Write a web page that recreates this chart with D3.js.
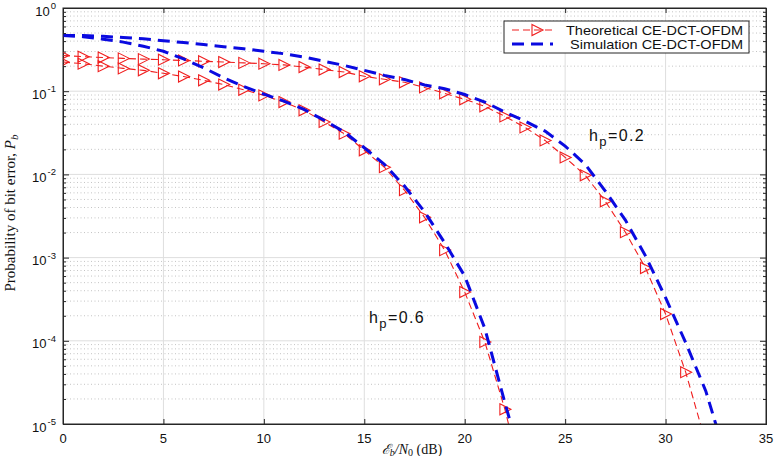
<!DOCTYPE html>
<html>
<head>
<meta charset="utf-8">
<script src="https://cdn.jsdelivr.net/npm/d3@7"></script>
<style>
  body { margin: 0; background: #fff; }
  svg { display: block; }
</style>
</head>
<body>
<div id="chart"></div>
<script>
// Eb/N0 points (dB)
var snr = d3.range(0, 34);

// theoretical curves (red, with markers)
var theoHp06 = [0.224, 0.214, 0.200, 0.188, 0.178, 0.164, 0.150, 0.135, 0.120, 0.104,
    0.0891, 0.0741, 0.0589, 0.0427, 0.0309, 0.0195, 0.0122, 0.00646, 0.00305, 0.00123,
    3.85e-4, 9.7e-5, 1.5e-5, 1.6e-6];
var theoHp02 = [0.269, 0.260, 0.254, 0.248, 0.243, 0.239, 0.234, 0.229, 0.224, 0.219,
    0.214, 0.207, 0.195, 0.182, 0.170, 0.151, 0.139, 0.128, 0.111, 0.0942,
    0.0798, 0.0658, 0.0498, 0.0367, 0.0256, 0.0160, 0.00975, 0.00475, 0.00202, 7.5e-4,
    2.1e-4, 4.2e-5, 6e-6];

// simulation curves (blue, dashed)
var simHp06 = [0.468, 0.452, 0.422, 0.389, 0.347, 0.302, 0.245, 0.191, 0.145, 0.114,
    0.0923, 0.0759, 0.0603, 0.0447, 0.0324, 0.0209, 0.0132, 0.00724, 0.00355, 0.00151,
    6.0e-4, 1.41e-4, 1.8e-5, 2.5e-6];
var simHp02 = [0.468, 0.468, 0.457, 0.442, 0.427, 0.403, 0.385, 0.363, 0.343, 0.324,
    0.302, 0.282, 0.257, 0.229, 0.204, 0.178, 0.155, 0.138, 0.119, 0.107,
    0.0912, 0.0741, 0.0562, 0.0437, 0.0331, 0.0219, 0.0132, 0.00631, 0.00282, 0.00105,
    3.3e-4, 9.5e-5, 2.5e-5, 4e-6];

var xTicks = [0, 5, 10, 15, 20, 25, 30, 35];
var yTicks = [1e-5, 1e-4, 1e-3, 1e-2, 1e-1, 1];
var yExp = ["-5", "-4", "-3", "-2", "-1", "0"];

var svgWidth = 778;
var svgHeight = 456;
var margin = {top: 8, right: 12, bottom: 32, left: 63};
var chartWidth = svgWidth - margin.left - margin.right;
var chartHeight = svgHeight - margin.top - margin.bottom;

var svg = d3.select("#chart").append("svg")
    .attr("width", svgWidth)
    .attr("height", svgHeight);

var chartGroup = svg.append("g")
    .attr("transform", `translate(${margin.left}, ${margin.top})`);

var xScale = d3.scaleLinear().domain([0, 35]).range([0, chartWidth]);
var yScale = d3.scaleLog().domain([1e-5, 1]).range([chartHeight, 0]);

// minor log values
var minorY = [];
for (var e = -5; e < 0; e++) {
    for (var m = 2; m <= 9; m++) minorY.push(m * Math.pow(10, e));
}

// grid: dotted minor horizontals
chartGroup.append("g").selectAll("line")
    .data(minorY).enter().append("line")
    .attr("x1", 0).attr("x2", chartWidth)
    .attr("y1", d => yScale(d)).attr("y2", d => yScale(d))
    .attr("stroke", "#c4c4c4")
    .attr("stroke-width", 1)
    .attr("stroke-dasharray", "1,2.5");

// grid: major
chartGroup.append("g").selectAll("line")
    .data(yTicks.slice(1, -1)).enter().append("line")
    .attr("x1", 0).attr("x2", chartWidth)
    .attr("y1", d => yScale(d)).attr("y2", d => yScale(d))
    .attr("stroke", "#dedede");
chartGroup.append("g").selectAll("line")
    .data(xTicks.slice(1, -1)).enter().append("line")
    .attr("y1", 0).attr("y2", chartHeight)
    .attr("x1", d => xScale(d)).attr("x2", d => xScale(d))
    .attr("stroke", "#dedede");

// axes (ticks inward)
var bottomAxis = d3.axisBottom(xScale).tickValues(xTicks).tickSize(-5).tickFormat("");
var topAxis = d3.axisTop(xScale).tickValues(xTicks).tickSize(-5).tickFormat("");
var leftMajor = d3.axisLeft(yScale).tickValues(yTicks).tickSize(-6).tickFormat("");
var leftMinor = d3.axisLeft(yScale).tickValues(minorY).tickSize(-3).tickFormat("");
var rightMajor = d3.axisRight(yScale).tickValues(yTicks).tickSize(-6).tickFormat("");
var rightMinor = d3.axisRight(yScale).tickValues(minorY).tickSize(-3).tickFormat("");

function styleAxis(g) {
    g.selectAll("path").attr("stroke", "#262626");
    g.selectAll("line").attr("stroke", "#262626");
}
chartGroup.append("g").attr("transform", `translate(0, ${chartHeight})`).call(bottomAxis).call(styleAxis);
chartGroup.append("g").call(topAxis).call(styleAxis);
chartGroup.append("g").call(leftMajor).call(styleAxis);
chartGroup.append("g").call(leftMinor).call(styleAxis);
chartGroup.append("g").attr("transform", `translate(${chartWidth}, 0)`).call(rightMajor).call(styleAxis);
chartGroup.append("g").attr("transform", `translate(${chartWidth}, 0)`).call(rightMinor).call(styleAxis);

// tick labels
chartGroup.append("g").selectAll("text")
    .data(xTicks).enter().append("text")
    .attr("x", d => xScale(d))
    .attr("y", chartHeight + 19)
    .attr("text-anchor", "middle")
    .attr("font-family", "Liberation Sans, Arial, sans-serif")
    .attr("font-size", "13px")
    .attr("fill", "#111")
    .text(d => d);

var yLab = chartGroup.append("g").selectAll("text")
    .data(yTicks).enter().append("text")
    .attr("x", -7)
    .attr("y", d => yScale(d) + 7.5)
    .attr("text-anchor", "end")
    .attr("font-family", "Liberation Sans, Arial, sans-serif")
    .attr("font-size", "13px")
    .attr("fill", "#111");
yLab.append("tspan").text("10");
yLab.append("tspan")
    .attr("dy", -6.5)
    .attr("dx", 1)
    .attr("font-size", "9.5px")
    .text((d, i) => yExp[i]);

// clip
svg.append("defs").append("clipPath").attr("id", "clip")
    .append("rect").attr("width", chartWidth).attr("height", chartHeight);

var plot = chartGroup.append("g").attr("clip-path", "url(#clip)");

var line = d3.line()
    .x(d => xScale(d[0]))
    .y(d => yScale(d[1]));

function pairs(vals) {
    return vals.map((v, i) => [snr[i], v]);
}

var redColor = "#f01e1e";
var blueColor = "#0a0ae0";
var triangle = "M-5,-5.5L6,0L-5,5.5Z";

[theoHp06, theoHp02].forEach(function(vals) {
    plot.append("path")
        .attr("d", line(pairs(vals)))
        .attr("fill", "none")
        .attr("stroke", redColor)
        .attr("stroke-width", 1.1)
        .attr("stroke-dasharray", "7,4");
    plot.append("g").selectAll("path")
        .data(pairs(vals)).enter().append("path")
        .attr("transform", d => `translate(${xScale(d[0])}, ${yScale(d[1])})`)
        .attr("d", triangle)
        .attr("fill", "none")
        .attr("stroke", redColor)
        .attr("stroke-width", 1.1);
});

[simHp06, simHp02].forEach(function(vals) {
    plot.append("path")
        .attr("d", line(pairs(vals)))
        .attr("fill", "none")
        .attr("stroke", blueColor)
        .attr("stroke-width", 3)
        .attr("stroke-dasharray", "12,7");
});

// frame
chartGroup.append("rect")
    .attr("width", chartWidth).attr("height", chartHeight)
    .attr("fill", "none").attr("stroke", "#262626");

// annotations
function hpLabel(x, y, val) {
    var t = chartGroup.append("text")
        .attr("x", x).attr("y", y)
        .attr("font-family", "Liberation Sans, Arial, sans-serif")
        .attr("font-size", "16px")
        .attr("letter-spacing", "1.4px")
        .attr("fill", "#111");
    t.append("tspan").text("h");
    t.append("tspan").attr("dy", 5).attr("font-size", "13px").text("p");
    t.append("tspan").attr("dy", -5).text("=" + val);
}
hpLabel(589 - margin.left, 141 - margin.top, "0.2");
hpLabel(369 - margin.left, 323 - margin.top, "0.6");

// legend
var legend = svg.append("g");
legend.append("rect")
    .attr("x", 504).attr("y", 21).attr("width", 245).attr("height", 32)
    .attr("fill", "#fff").attr("stroke", "#262626");
legend.append("line")
    .attr("x1", 512).attr("x2", 553).attr("y1", 30).attr("y2", 30)
    .attr("stroke", redColor).attr("stroke-width", 1.1).attr("stroke-dasharray", "7,4");
legend.append("path")
    .attr("transform", "translate(537, 30)")
    .attr("d", triangle)
    .attr("fill", "none").attr("stroke", redColor).attr("stroke-width", 1.1);
legend.append("line")
    .attr("x1", 512).attr("x2", 553).attr("y1", 44).attr("y2", 44)
    .attr("stroke", blueColor).attr("stroke-width", 3).attr("stroke-dasharray", "12,7");
legend.append("text")
    .attr("x", 743).attr("y", 34.5)
    .attr("text-anchor", "end")
    .attr("font-family", "Liberation Sans, Arial, sans-serif")
    .attr("font-size", "13px").attr("fill", "#111")
    .attr("textLength", 177).attr("lengthAdjust", "spacingAndGlyphs")
    .text("Theoretical CE-DCT-OFDM");
legend.append("text")
    .attr("x", 743).attr("y", 48.5)
    .attr("text-anchor", "end")
    .attr("font-family", "Liberation Sans, Arial, sans-serif")
    .attr("font-size", "13px").attr("fill", "#111")
    .attr("textLength", 173).attr("lengthAdjust", "spacingAndGlyphs")
    .text("Simulation CE-DCT-OFDM");

// axis titles (sits at the bottom edge, as in the original figure)
var xTitle = svg.append("text")
    .attr("x", 412).attr("y", 454)
    .attr("text-anchor", "middle")
    .attr("font-family", "Liberation Serif, serif")
    .attr("font-size", "14px")
    .attr("fill", "#111");
xTitle.append("tspan").attr("font-style", "italic").text("ℰ");
xTitle.append("tspan").attr("font-style", "italic").attr("font-size", "10px").attr("dy", 1.5).text("b");
xTitle.append("tspan").attr("dy", -1.5).attr("font-style", "italic").text("/N");
xTitle.append("tspan").attr("font-size", "10px").attr("dy", 1.5).text("0");
xTitle.append("tspan").attr("dy", -1.5).text(" (dB)");

var yTitle = svg.append("text")
    .attr("transform", "translate(15, 213) rotate(-90)")
    .attr("text-anchor", "middle")
    .attr("font-family", "Liberation Serif, serif")
    .attr("font-size", "15px")
    .attr("fill", "#111");
yTitle.append("tspan").text("Probability of bit error, ");
yTitle.append("tspan").attr("font-style", "italic").text("P");
yTitle.append("tspan").attr("font-style", "italic").attr("font-size", "11px").attr("dy", 3).text("b");
</script>
</body>
</html>
